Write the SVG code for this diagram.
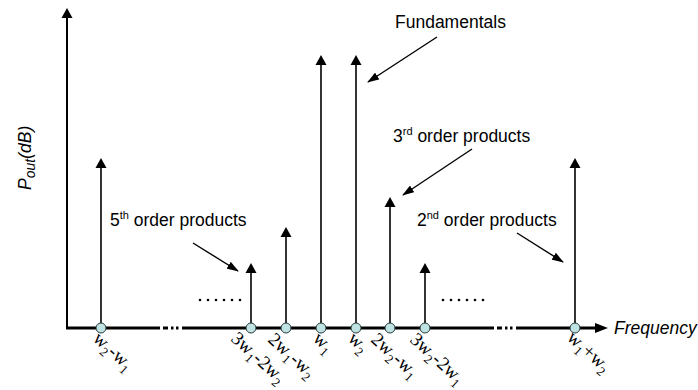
<svg xmlns="http://www.w3.org/2000/svg" width="698" height="390" viewBox="0 0 698 390">
<style>
.ax{stroke:#000;fill:none}
.stem{stroke:#000;stroke-width:1.6;fill:none}
.ann{stroke:#000;stroke-width:1.4;fill:none}
.head{fill:#000}
.node{fill:#bfe2e2;stroke:#2a3a3a;stroke-width:1}
.lbl{font-family:"Liberation Sans",Arial,sans-serif;font-size:17.5px;fill:#000}
.nl{font-family:"Liberation Serif","Times New Roman",serif;font-size:19px;fill:#000}
.sub{font-size:13px}
</style>
<defs>
<marker id="ah" markerWidth="12" markerHeight="8" refX="11" refY="4" orient="auto" markerUnits="userSpaceOnUse"><path d="M0,0 L12,4 L0,8 z" fill="#000"/></marker>
</defs>
<g id="axes">
<line class="ax" x1="67" y1="328" x2="67" y2="16" stroke-width="2"/>
<path class="head" d="M67,8 L61.5,18 L72.5,18 z"/>
<g stroke="#000" stroke-width="3">
<line x1="66" y1="328" x2="160" y2="328"/>
<line x1="163" y1="328" x2="168" y2="328"/>
<line x1="171" y1="328" x2="173.5" y2="328"/>
<line x1="176" y1="328" x2="178.5" y2="328"/>
<line x1="182" y1="328" x2="494" y2="328"/>
<line x1="497" y1="328" x2="502" y2="328"/>
<line x1="505" y1="328" x2="507.5" y2="328"/>
<line x1="510" y1="328" x2="512.5" y2="328"/>
<line x1="516" y1="328" x2="597" y2="328"/>
</g>
<path class="head" d="M608,328 L595,323 L595,333 z"/>
<text class="lbl" x="614" y="334" font-style="italic">Frequency</text>
<text class="lbl" transform="translate(31,190) rotate(-90)" font-style="italic" font-size="19">P<tspan font-size="14" dy="4">out</tspan><tspan dy="-4">(dB)</tspan></text>
</g>
<g id="connectors">
<line class="stem" x1="101" y1="328" x2="101" y2="166"/><path class="head" d="M101,158 L95.5,168 L106.5,168 z"/>
<line class="stem" x1="251" y1="328" x2="251" y2="271"/><path class="head" d="M251,263 L245.5,273 L256.5,273 z"/>
<line class="stem" x1="286" y1="328" x2="286" y2="235"/><path class="head" d="M286,227 L280.5,237 L291.5,237 z"/>
<line class="stem" x1="321" y1="328" x2="321" y2="63"/><path class="head" d="M321,55 L315.5,65 L326.5,65 z"/>
<line class="stem" x1="356" y1="328" x2="356" y2="63"/><path class="head" d="M356,55 L350.5,65 L361.5,65 z"/>
<line class="stem" x1="390" y1="328" x2="390" y2="205"/><path class="head" d="M390,197 L384.5,207 L395.5,207 z"/>
<line class="stem" x1="425" y1="328" x2="425" y2="271"/><path class="head" d="M425,263 L419.5,273 L430.5,273 z"/>
<line class="stem" x1="575" y1="328" x2="575" y2="166"/><path class="head" d="M575,158 L569.5,168 L580.5,168 z"/>
<line class="ann" x1="437" y1="37" x2="368" y2="82" marker-end="url(#ah)"/>
<line class="ann" x1="472" y1="149" x2="403" y2="195" marker-end="url(#ah)"/>
<line class="ann" x1="193" y1="243" x2="238" y2="271" marker-end="url(#ah)"/>
<line class="ann" x1="517" y1="233" x2="563" y2="262" marker-end="url(#ah)"/>
<g fill="#000">
<circle cx="200" cy="300" r="1.3"/><circle cx="208" cy="300" r="1.3"/><circle cx="216" cy="300" r="1.3"/><circle cx="224" cy="300" r="1.3"/><circle cx="232" cy="300" r="1.3"/><circle cx="240" cy="300" r="1.3"/>
<circle cx="443" cy="300" r="1.3"/><circle cx="451" cy="300" r="1.3"/><circle cx="459" cy="300" r="1.3"/><circle cx="467" cy="300" r="1.3"/><circle cx="475" cy="300" r="1.3"/><circle cx="483" cy="300" r="1.3"/>
</g>
</g>
<g id="annotations">
<text class="lbl" x="395" y="28" font-size="18">Fundamentals</text>
<text class="lbl" x="393" y="142" font-size="18">3<tspan font-size="11" dy="-7">rd</tspan><tspan dy="7"> order products</tspan></text>
<text class="lbl" x="110" y="226" font-size="18">5<tspan font-size="11" dy="-7">th</tspan><tspan dy="7"> order products</tspan></text>
<text class="lbl" x="417" y="226" font-size="18">2<tspan font-size="11" dy="-7">nd</tspan><tspan dy="7"> order products</tspan></text>
</g>
<g id="n_w2mw1"><circle class="node" cx="101" cy="328" r="5"/><text class="nl" transform="translate(92,340) rotate(42)">w<tspan class="sub" dy="5">2</tspan><tspan dy="-5">-w</tspan><tspan class="sub" dy="5">1</tspan></text></g>
<g id="n_3w1m2w2"><circle class="node" cx="251" cy="328" r="5"/><text class="nl" transform="translate(230,340) rotate(42)">3w<tspan class="sub" dy="5">1</tspan><tspan dy="-5">-2w</tspan><tspan class="sub" dy="5">2</tspan></text></g>
<g id="n_2w1mw2"><circle class="node" cx="286" cy="328" r="5"/><text class="nl" transform="translate(267,341) rotate(42)">2w<tspan class="sub" dy="5">1</tspan><tspan dy="-5">-w</tspan><tspan class="sub" dy="5">2</tspan></text></g>
<g id="n_w1"><circle class="node" cx="321" cy="328" r="5"/><text class="nl" transform="translate(312,340) rotate(42)">w<tspan class="sub" dy="5">1</tspan></text></g>
<g id="n_w2"><circle class="node" cx="356" cy="328" r="5"/><text class="nl" transform="translate(347,340) rotate(42)">w<tspan class="sub" dy="5">2</tspan></text></g>
<g id="n_2w2mw1"><circle class="node" cx="390" cy="328" r="5"/><text class="nl" transform="translate(370,341) rotate(42)">2w<tspan class="sub" dy="5">2</tspan><tspan dy="-5">-w</tspan><tspan class="sub" dy="5">1</tspan></text></g>
<g id="n_3w2m2w1"><circle class="node" cx="425" cy="328" r="5"/><text class="nl" transform="translate(409,341) rotate(42)">3w<tspan class="sub" dy="5">2</tspan><tspan dy="-5">-2w</tspan><tspan class="sub" dy="5">1</tspan></text></g>
<g id="n_w1pw2"><circle class="node" cx="575" cy="328" r="5"/><text class="nl" transform="translate(566,339) rotate(42)">w<tspan class="sub" dy="5">1</tspan><tspan dy="-5">+w</tspan><tspan class="sub" dy="5">2</tspan></text></g>
</svg>
